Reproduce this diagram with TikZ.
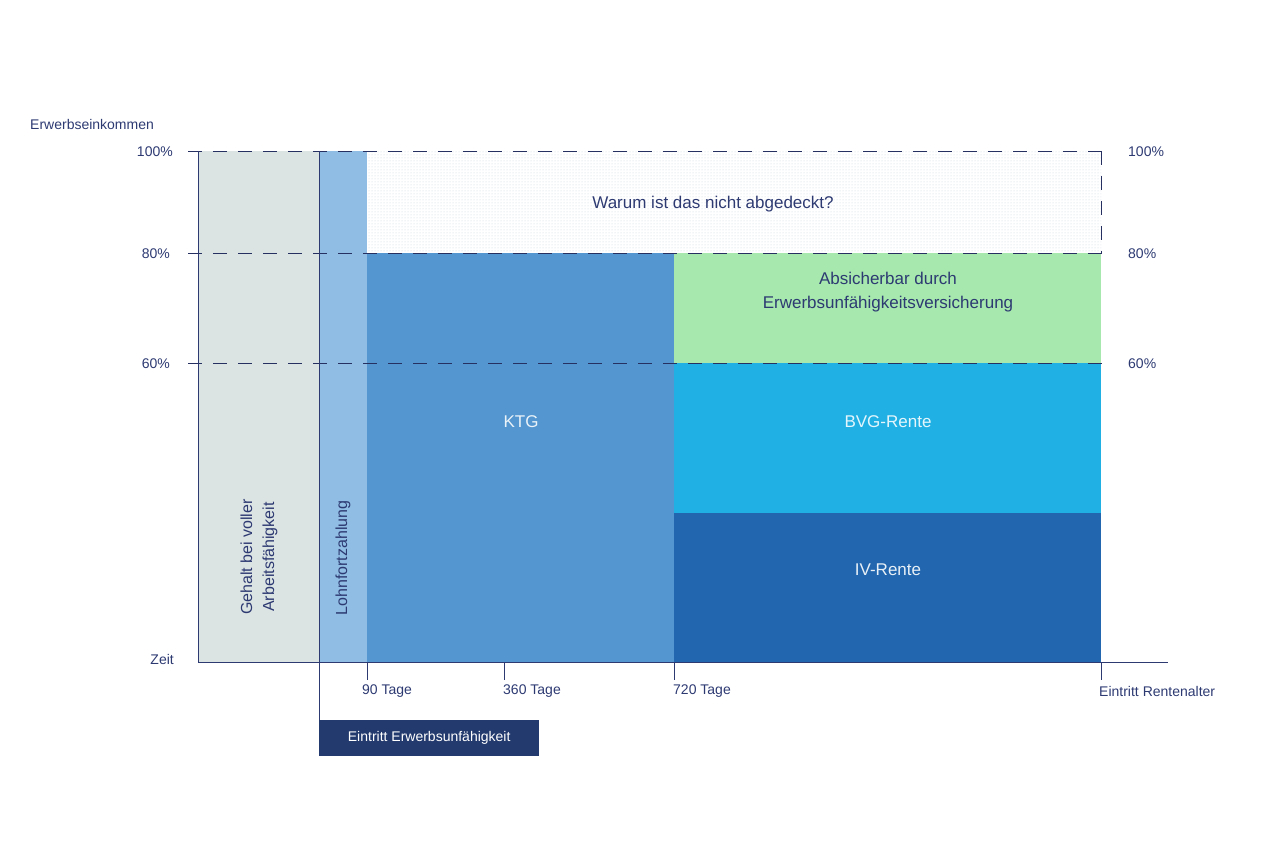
\documentclass[tikz,border=0pt]{standalone}
\usepackage{fontspec}
\setmainfont{Liberation Sans}
\usetikzlibrary{patterns}
\definecolor{txt}{HTML}{2D3A72}
\definecolor{navy}{HTML}{233A6E}
\definecolor{cgrey}{HTML}{DCE3E3}
\definecolor{clohn}{HTML}{8FBDE3}
\definecolor{cktg}{HTML}{5496CF}
\definecolor{cgreen}{HTML}{A6E8AD}
\definecolor{cbvg}{HTML}{21B0E3}
\definecolor{civ}{HTML}{2166AE}
\definecolor{cdot}{HTML}{C8D2DA}
\begin{document}
\begin{tikzpicture}[x=1pt,y=-1pt,
  lbl/.style={text=txt,font=\fontsize{14}{16}\selectfont,inner sep=0},
  big/.style={font=\fontsize{17}{21}\selectfont,align=center,inner sep=0},
  axis/.style={draw=txt,line width=1pt},
  dashl/.style={draw=txt!85!black,line width=0.9pt,dash pattern=on 14pt off 11pt}]
\useasboundingbox (0,0) rectangle (1280,842);
\fill[cgrey] (198,151) rectangle (319,662);
\fill[clohn] (319,151) rectangle (367,662);
\fill[cktg] (367,253) rectangle (674,662);
\fill[cgreen] (674,253) rectangle (1101,363);
\fill[cbvg] (674,363) rectangle (1101,513);
\fill[civ] (674,513) rectangle (1101,662);
\fill[pattern=dots,pattern color=cdot] (367,151) rectangle (1101,253);
\foreach \y in {151,253,363} \draw[dashl] (188,\y) -- (1110,\y);
\draw[dashl] (1101,151) -- (1101,253);
\draw[axis] (198,151) -- (198,662) -- (1168,662);
\coordinate (e0) at (319,151);
\coordinate (e1) at (319,720);
\draw[axis] (e0) -- (e1);
\foreach \x in {367,504,674,1101} \draw[axis] (\x,662) -- (\x,680);
\node[lbl,anchor=west] (yl) at (30,124) {Erwerbseinkommen};
\node[lbl,anchor=east] (l100) at (173,152) {100\%};
\node[lbl,anchor=east] (l80) at (170,254) {80\%};
\node[lbl,anchor=east] (l60) at (170,364) {60\%};
\node[lbl,anchor=east] (lz) at (174,659) {Zeit};
\node[lbl,anchor=west] (r100) at (1128,152) {100\%};
\node[lbl,anchor=west] (r80) at (1128,254) {80\%};
\node[lbl,anchor=west] (r60) at (1128,364) {60\%};
\node[lbl,anchor=west] (t90) at (362,691) {90 Tage};
\node[lbl,anchor=west] (t360) at (503,691) {360 Tage};
\node[lbl,anchor=west] (t720) at (673,691) {720 Tage};
\node[lbl,anchor=west] (tr) at (1099,691) {Eintritt Rentenalter};
\node[fill=navy,text=white,font=\fontsize{14}{16}\selectfont,minimum width=220pt,minimum height=36pt,inner sep=0,anchor=north west] (eb) at (319,720) {Eintritt Erwerbsunfähigkeit};
\node[big,text=txt] (q) at (713,204) {Warum ist das nicht abgedeckt?};
\node[big,text=txt,font=\fontsize{17}{24}\selectfont] (g) at (888,292) {Absicherbar durch\\Erwerbsunfähigkeitsversicherung};
\node[big,text=white!88!cktg] (k) at (521,422) {KTG};
\node[big,text=white!88!cbvg] (b) at (888,422) {BVG-Rente};
\node[big,text=white!90!civ] (iv) at (888,570) {IV-Rente};
\node[big,text=txt,rotate=90,font=\fontsize{16}{22}\selectfont] (gh) at (259,557) {Gehalt bei voller\\Arbeitsfähigkeit};
\node[big,text=txt,rotate=90,font=\fontsize{16}{20}\selectfont] (lf) at (343,558) {Lohnfortzahlung};
\end{tikzpicture}
\end{document}
